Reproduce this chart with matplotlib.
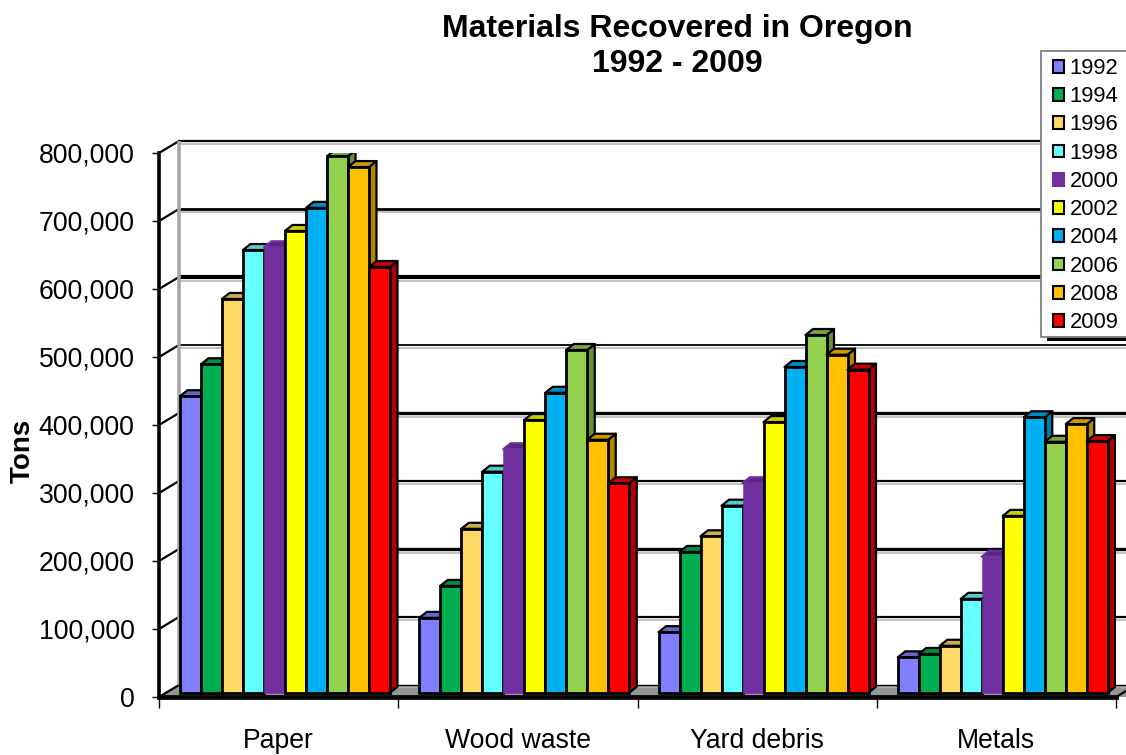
import matplotlib
matplotlib.use("Agg")
import matplotlib.pyplot as plt
from matplotlib.patches import Polygon, Rectangle
import numpy as np

plt.rcParams['font.family'] = ['Liberation Sans', 'DejaVu Sans']

categories = ['Paper', 'Wood waste', 'Yard debris', 'Metals']
years = ['1992', '1994', '1996', '1998', '2000', '2002', '2004', '2006', '2008', '2009']

# tons recovered, one list per material, in the order of years
paper = [436000, 483000, 579000, 651000, 655000, 679000, 713000, 789000, 773000, 626000]
wood_waste = [110000, 157000, 241000, 325000, 358000, 401000, 441000, 504000, 372000, 308000]
yard_debris = [89000, 207000, 230000, 275000, 308000, 398000, 479000, 526000, 497000, 475000]
metals = [52000, 57000, 69000, 138000, 200000, 260000, 405000, 369000, 395000, 370000]
materials = [paper, wood_waste, yard_debris, metals]

face_colors = ['#8080ff', '#00b050', '#ffd966', '#66ffff', '#7030a0',
               '#ffff00', '#00b0f0', '#92d050', '#ffc000', '#ff0000']
side_colors = ['#5a5ab4', '#007b38', '#b39848', '#48b4b4', '#4e2270',
               '#b4b400', '#007ba8', '#668f38', '#b48700', '#b40000']
top_colors = ['#6666cc', '#008d40', '#ccae52', '#52cccc', '#5a2680',
              '#cccc00', '#008dc0', '#75a640', '#cc9a00', '#cc0000']
edge_colors = ['black'] * 4 + ['#7030a0'] + ['black'] * 5
edge_widths = [2.0] * 4 + [0.4] + [2.0] * 5

y_ticks = np.arange(0, 800001, 100000)
grid_widths = [1.0, 1.6, 2.4, 1.6, 2.4, 1.3, 3.0, 2.0, 1.6]

W, H = 1126, 755
X0, X1, Y0, Y1 = 159, 1116, 697, 153

fig = plt.figure(figsize=(W / 100, H / 100), dpi=100)
ax = fig.add_axes([X0 / W, 1 - Y0 / H, (X1 - X0) / W, (Y0 - Y1) / H])
ax.set_xlim(0, 4)
ax.set_ylim(0, 800000)

# pixel lengths expressed in data units
px_x = 4 / (X1 - X0)
px_y = 800000 / (Y0 - Y1)

# back wall and floor sit behind the front plane
wall_dx = 20 * px_x
wall_dy = 12 * px_y
far_x = 4 + 40 * px_x

ax.add_patch(Polygon([(0, 0), (wall_dx, wall_dy), (far_x, wall_dy), (4 + wall_dx, 0)],
                     closed=True, facecolor='#969696', edgecolor='none',
                     clip_on=False, zorder=1))
for v, lw in zip(y_ticks, grid_widths):
    yb = v + wall_dy
    ax.plot([wall_dx, far_x], [yb - (lw + 1.4) * px_y] * 2, color='#b0b0b0', lw=1.1,
            clip_on=False, zorder=1.5, solid_capstyle='butt')
    ax.plot([wall_dx, far_x], [yb, yb], color='black', lw=lw,
            clip_on=False, zorder=2, solid_capstyle='butt')
    ax.plot([0, wall_dx], [v, yb], color='black', lw=1.6, clip_on=False, zorder=2)
ax.plot([wall_dx, wall_dx], [wall_dy, 800000 + wall_dy], color='#a6a6a6', lw=2.6,
        clip_on=False, zorder=2.2, solid_capstyle='butt')
ax.plot([4, 4 + 14 * px_x], [0, 8.4 * px_y], color='black', lw=1.6, clip_on=False, zorder=2)

# bars, drawn left to right so each one covers the side of the previous
bar_w = 21 * px_x
depth_x = 7.5 * px_x
depth_y = 6 * px_y
base = 4.3 * px_y
group_pad = 21 * px_x
z = 3
legend_handles = []
for c, values in enumerate(materials):
    for i, v in enumerate(values):
        left = c + group_pad + i * bar_w
        right = left + bar_w
        top = base + v
        side = Polygon([(right, base), (right + depth_x, base + depth_y),
                        (right + depth_x, top + depth_y), (right, top)],
                       closed=True, facecolor=side_colors[i], edgecolor=edge_colors[i],
                       lw=1.6, zorder=z, joinstyle='round')
        roof = Polygon([(left, top), (left + depth_x, top + depth_y),
                        (right + depth_x, top + depth_y), (right, top)],
                       closed=True, facecolor=top_colors[i], edgecolor=edge_colors[i],
                       lw=1.6, zorder=z, joinstyle='round')
        ax.add_patch(side)
        ax.add_patch(roof)
        bars = ax.bar(left, v, width=bar_w, bottom=base, align='edge', color=face_colors[i],
                      edgecolor=edge_colors[i], linewidth=edge_widths[i], zorder=z + 0.5)
        if c == 0:
            legend_handles.append(bars[0])
        z += 1

for s in ['top', 'right']:
    ax.spines[s].set_visible(False)
ax.patch.set_visible(False)
ax.spines['left'].set_linewidth(2.6)
ax.spines['bottom'].set_linewidth(3.4)
ax.spines['left'].set_zorder(2.5)
ax.spines['bottom'].set_zorder(60)

ax.set_yticks(y_ticks)
ax.set_yticklabels([f'{v:,}' for v in y_ticks], fontsize=19.2)
ax.tick_params(axis='y', length=5, width=1, pad=12.5)
ax.set_xticks(range(5))
ax.set_xticklabels([])
ax.tick_params(axis='x', length=8, width=1)
ax.set_xticks(np.arange(4) + 0.5, labels=categories, minor=True, fontsize=19.2)
ax.tick_params(axis='x', which='minor', length=0, pad=22)

ax.set_ylabel('Tons', fontsize=20, fontweight='bold')
ax.yaxis.set_label_coords((36 - X0) / (X1 - X0), (Y0 - 451) / (Y0 - Y1))

fig.text(677 / W, 1 - 29.5 / H, 'Materials Recovered in Oregon', ha='center', va='center',
         fontsize=23, fontweight='bold')
fig.text(677 / W, 1 - 64.5 / H, '1992 - 2009', ha='center', va='center',
         fontsize=23, fontweight='bold')

# legend box runs past the right edge, with a black strip below it as a shadow
fig.add_artist(Rectangle((1047 / W, 1 - 341 / H), 90 / W, 5 / H, facecolor='black',
                         edgecolor='none', transform=fig.transFigure, zorder=5))
fig.add_artist(Rectangle((1041 / W, 1 - 337 / H), 95 / W, 286 / H, facecolor='white',
                         edgecolor='#808080', linewidth=1.3,
                         transform=fig.transFigure, zorder=6))
leg = fig.legend(legend_handles, years, loc='upper left',
                 bbox_to_anchor=(1053 / W, 1 - 58 / H), fontsize=15.8, frameon=False,
                 borderaxespad=0, borderpad=0,
                 handlelength=0.52, handleheight=0.52, handletextpad=0.24,
                 labelspacing=0.33)
leg.set_zorder(7)
for h in leg.get_patches():
    h.set_linewidth(1.5)

fig.savefig('out.png', dpi=100)
